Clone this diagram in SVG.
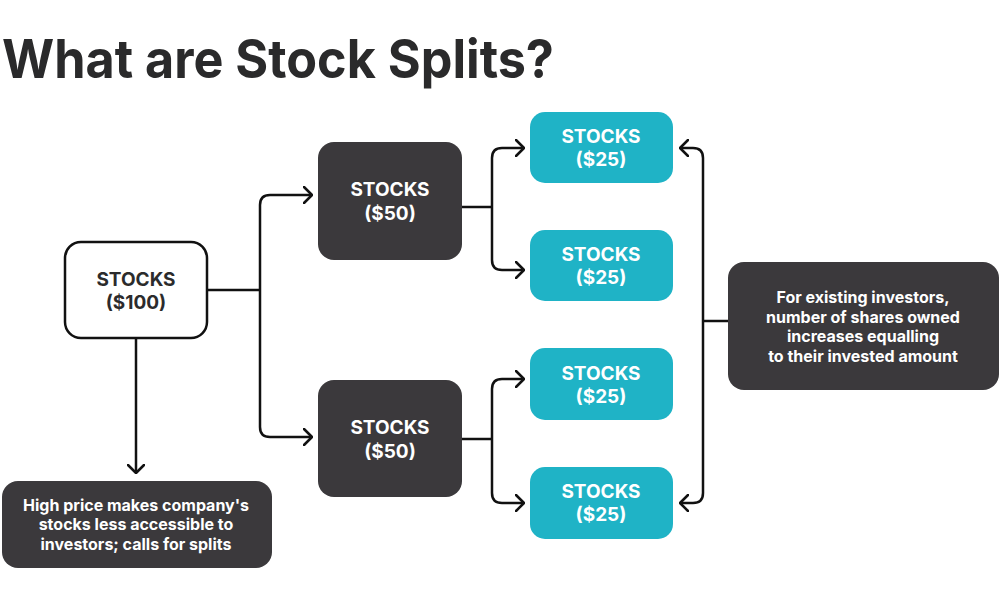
<svg xmlns="http://www.w3.org/2000/svg" width="1000" height="611" viewBox="0 0 1000 611">
<style>
.t{font-family:Inter,"Liberation Sans",sans-serif;font-weight:700;text-anchor:middle}
.lbl{font-size:19px}
.desc{font-size:16px;fill:#ffffff}
.dark{fill:#3b393c}
.cyan{fill:#1fb3c6}
.con{fill:none;stroke:#111;stroke-width:2.5}
</style>
<defs>
<marker id="ah" viewBox="0 0 10 18" refX="9" refY="9" markerWidth="10" markerHeight="18" markerUnits="userSpaceOnUse" orient="auto">
<path d="M1,1 L9,9 L1,17" fill="none" stroke="#111" stroke-width="2.5" stroke-linecap="round" stroke-linejoin="round"/>
</marker>
</defs>
<rect width="1000" height="611" fill="#ffffff"/>
<text x="2" y="78" font-family="Inter,'Liberation Sans',sans-serif" font-weight="700" font-size="54" fill="#2a2a2b" textLength="552" lengthAdjust="spacingAndGlyphs">What are Stock Splits?</text>

<g id="connectors">
<path class="con" d="M207,290 H260"/>
<path class="con" marker-end="url(#ah)" d="M260,290 V205 Q260,195 270,195 H312"/>
<path class="con" marker-end="url(#ah)" d="M260,290 V427 Q260,437 270,437 H312"/>
<path class="con" marker-end="url(#ah)" d="M136,338 V473"/>
<path class="con" d="M462,207 H492"/>
<path class="con" marker-end="url(#ah)" d="M492,207 V158 Q492,148 502,148 H524"/>
<path class="con" marker-end="url(#ah)" d="M492,207 V260 Q492,270 502,270 H524"/>
<path class="con" d="M462,439 H492"/>
<path class="con" marker-end="url(#ah)" d="M492,439 V389 Q492,379 502,379 H524"/>
<path class="con" marker-end="url(#ah)" d="M492,439 V493 Q492,503 502,503 H524"/>
<path class="con" d="M728,321 H703"/>
<path class="con" marker-end="url(#ah)" d="M703,321 V158 Q703,148 693,148 H680"/>
<path class="con" marker-end="url(#ah)" d="M703,321 V493 Q703,503 693,503 H680"/>
</g>

<g id="n100">
<rect x="65" y="242" width="142" height="96" rx="16" fill="#ffffff" stroke="#111" stroke-width="2.5"/>
<text class="t lbl" x="136" y="286" fill="#2b2b2c">STOCKS</text>
<text class="t lbl" x="136" y="309" fill="#2b2b2c">($100)</text>
</g>

<g id="n50a">
<rect class="dark" x="318" y="142" width="144" height="118" rx="16"/>
<text class="t lbl" x="390" y="196" fill="#ffffff">STOCKS</text>
<text class="t lbl" x="390" y="220" fill="#ffffff">($50)</text>
</g>

<g id="n50b">
<rect class="dark" x="318" y="380" width="144" height="117" rx="16"/>
<text class="t lbl" x="390" y="434" fill="#ffffff">STOCKS</text>
<text class="t lbl" x="390" y="458" fill="#ffffff">($50)</text>
</g>

<g id="n25a">
<rect class="cyan" x="530" y="112" width="143" height="71" rx="15"/>
<text class="t lbl" x="601" y="143" fill="#ffffff">STOCKS</text>
<text class="t lbl" x="601" y="166" fill="#ffffff">($25)</text>
</g>

<g id="n25b">
<rect class="cyan" x="530" y="230" width="143" height="71" rx="15"/>
<text class="t lbl" x="601" y="261" fill="#ffffff">STOCKS</text>
<text class="t lbl" x="601" y="284" fill="#ffffff">($25)</text>
</g>

<g id="n25c">
<rect class="cyan" x="530" y="348" width="143" height="72" rx="15"/>
<text class="t lbl" x="601" y="380" fill="#ffffff">STOCKS</text>
<text class="t lbl" x="601" y="403" fill="#ffffff">($25)</text>
</g>

<g id="n25d">
<rect class="cyan" x="530" y="467" width="143" height="72" rx="15"/>
<text class="t lbl" x="601" y="498" fill="#ffffff">STOCKS</text>
<text class="t lbl" x="601" y="521" fill="#ffffff">($25)</text>
</g>

<g id="existing">
<rect class="dark" x="728" y="262" width="271" height="128" rx="16"/>
<text class="t desc" x="863" y="303">For existing investors,</text>
<text class="t desc" x="863" y="323">number of shares owned</text>
<text class="t desc" x="863" y="342">increases equalling</text>
<text class="t desc" x="863" y="362">to their invested amount</text>
</g>

<g id="highprice">
<rect class="dark" x="2" y="481" width="270" height="87" rx="16"/>
<text class="t desc" x="136" y="511">High price makes company's</text>
<text class="t desc" x="136" y="530">stocks less accessible to</text>
<text class="t desc" x="136" y="550">investors; calls for splits</text>
</g>
</svg>
